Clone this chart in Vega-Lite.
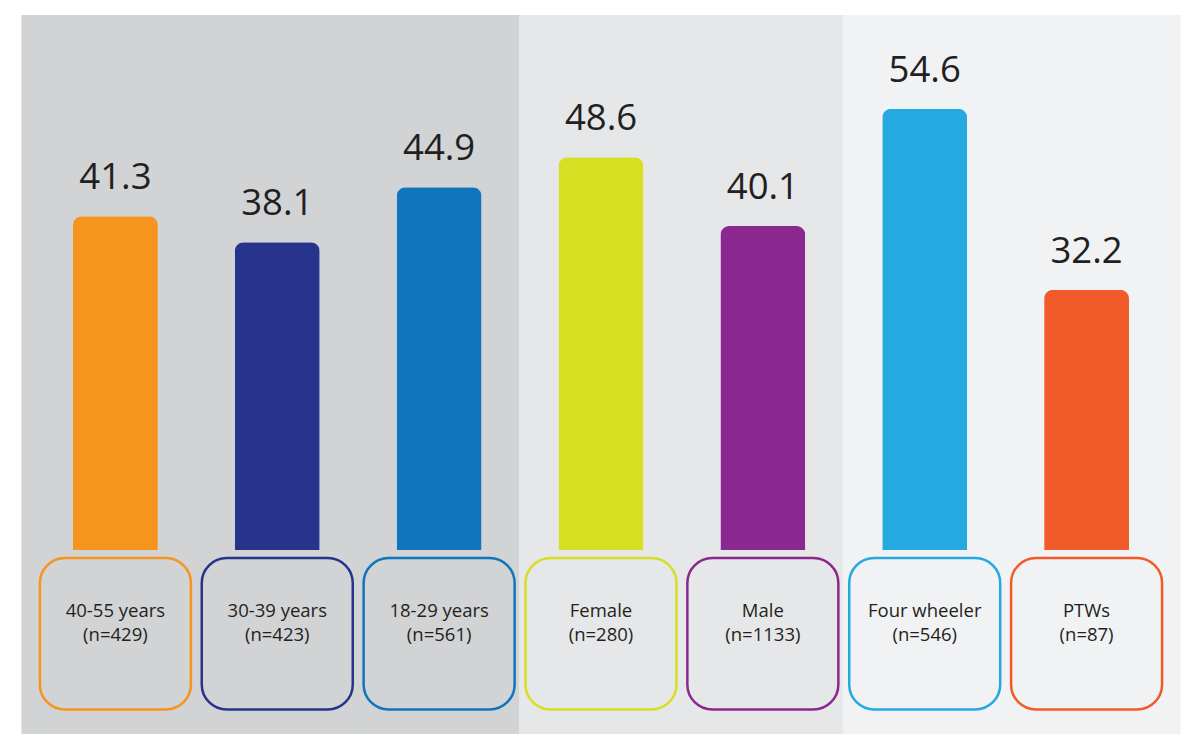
{
  "$schema": "https://vega.github.io/schema/vega-lite/v6.json",
  "width": 1181,
  "height": 734,
  "autosize": {"type": "fit", "contains": "padding"},
  "padding": 0,
  "background": "#ffffff",
  "config": {"view": {"stroke": null}, "font": "Open Sans"},
  "data": {
    "values": [
      {"cat": "40-55 years", "value": 41.3, "n": "(n=429)", "group": "Age"},
      {"cat": "30-39 years", "value": 38.1, "n": "(n=423)", "group": "Age"},
      {"cat": "18-29 years", "value": 44.9, "n": "(n=561)", "group": "Age"},
      {"cat": "Female", "value": 48.6, "n": "(n=280)", "group": "Gender"},
      {"cat": "Male", "value": 40.1, "n": "(n=1133)", "group": "Gender"},
      {"cat": "Four wheeler", "value": 54.6, "n": "(n=546)", "group": "Vehicle"},
      {"cat": "PTWs", "value": 32.2, "n": "(n=87)", "group": "Vehicle"}
    ]
  },
  "layer": [
    {
      "mark": {"type": "bar", "width": 188},
      "encoding": {
        "x": {
          "field": "cat", "type": "nominal", "axis": null,
          "scale": {
            "domain": ["40-55 years", "30-39 years", "18-29 years", "Female", "Male", "Four wheeler", "PTWs"],
            "paddingInner": 0.4753, "paddingOuter": 0.3858, "align": 0.584
          }
        },
        "y": {
          "datum": 66.2, "axis": null,
          "scale": {"domain": [-22.77, 68.07], "nice": false, "zero": false}
        },
        "y2": {"datum": -22.77},
        "fill": {
          "field": "group", "type": "nominal", "legend": null,
          "scale": {"domain": ["Age", "Gender", "Vehicle"], "range": ["#D1D3D4", "#E6E7E8", "#F1F2F4"]}
        }
      }
    },
    {
      "mark": {"type": "bar", "width": 164},
      "encoding": {
        "x": {
          "field": "cat", "type": "nominal", "axis": null,
          "scale": {
            "domain": ["40-55 years", "30-39 years", "18-29 years", "Female", "Male", "Four wheeler", "PTWs"],
            "paddingInner": 0.4753, "paddingOuter": 0.3858, "align": 0.584
          }
        },
        "y": {
          "datum": 66.2, "axis": null,
          "scale": {"domain": [-22.77, 68.07], "nice": false, "zero": false}
        },
        "y2": {"datum": -22.77},
        "fill": {
          "field": "group", "type": "nominal", "legend": null,
          "scale": {"domain": ["Age", "Gender", "Vehicle"], "range": ["#D1D3D4", "#E6E7E8", "#F1F2F4"]}
        }
      }
    },
    {
      "mark": {"type": "bar", "cornerRadiusTopLeft": 9, "cornerRadiusTopRight": 9},
      "encoding": {
        "x": {
          "field": "cat", "type": "nominal", "axis": null,
          "scale": {
            "domain": ["40-55 years", "30-39 years", "18-29 years", "Female", "Male", "Four wheeler", "PTWs"],
            "paddingInner": 0.4753, "paddingOuter": 0.3858, "align": 0.584
          }
        },
        "y": {
          "field": "value", "type": "quantitative", "axis": null,
          "scale": {"domain": [-22.77, 68.07], "nice": false, "zero": false}
        },
        "color": {
          "field": "cat", "type": "nominal", "legend": null,
          "scale": {
            "domain": ["40-55 years", "30-39 years", "18-29 years", "Female", "Male", "Four wheeler", "PTWs"],
            "range": ["#F7941D", "#27348B", "#0F75BC", "#D7DF23", "#8B288F", "#24A9E1", "#F15A29"]
          }
        }
      }
    },
    {
      "mark": {"type": "text", "baseline": "alphabetic", "dy": -27, "fontSize": 36.5, "color": "#231F20"},
      "encoding": {
        "x": {"field": "cat", "type": "nominal"},
        "y": {"field": "value", "type": "quantitative"},
        "text": {"field": "value", "type": "quantitative", "format": ".1f"}
      }
    },
    {
      "mark": {"type": "text", "baseline": "middle", "fontSize": 18.5, "color": "#231F20"},
      "encoding": {
        "x": {"field": "cat", "type": "nominal"},
        "y": {"datum": -7.55},
        "text": {"field": "cat", "type": "nominal"}
      }
    },
    {
      "mark": {"type": "text", "baseline": "middle", "fontSize": 18.5, "color": "#231F20"},
      "encoding": {
        "x": {"field": "cat", "type": "nominal"},
        "y": {"datum": -10.52},
        "text": {"field": "n", "type": "nominal"}
      }
    },
    {
      "mark": {"type": "bar", "width": 151, "cornerRadius": 25, "fill": "transparent", "strokeWidth": 2.5},
      "encoding": {
        "x": {"field": "cat", "type": "nominal"},
        "y": {"datum": -0.99},
        "y2": {"datum": -19.74},
        "stroke": {
          "field": "cat", "type": "nominal", "legend": null,
          "scale": {
            "domain": ["40-55 years", "30-39 years", "18-29 years", "Female", "Male", "Four wheeler", "PTWs"],
            "range": ["#F7941D", "#27348B", "#0F75BC", "#D7DF23", "#8B288F", "#24A9E1", "#F15A29"]
          }
        }
      }
    }
  ]
}
